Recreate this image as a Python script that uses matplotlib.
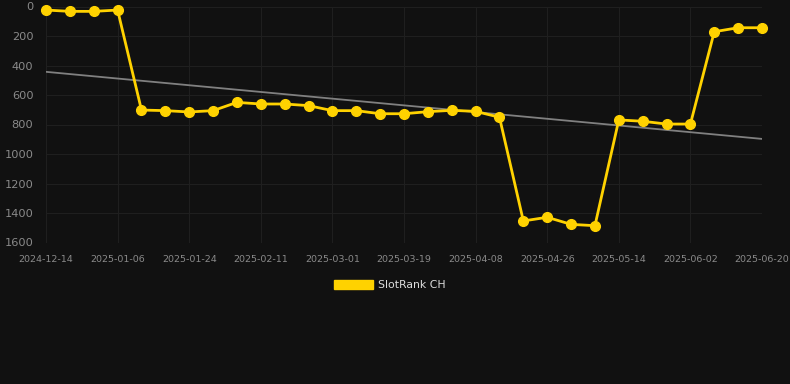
import matplotlib
matplotlib.use("Agg")
import matplotlib.pyplot as plt
import numpy as np

ranks = [24, 33, 33, 24, 702, 706, 715, 706, 650, 661, 661, 672, 706, 706, 727, 727,
         713, 704, 711, 751, 1454, 1429, 1477, 1486, 769, 778, 797, 797, 171, 144, 144]
tick_labels = ["2024-12-14", "2025-01-06", "2025-01-24", "2025-02-11", "2025-03-01",
               "2025-03-19", "2025-04-08", "2025-04-26", "2025-05-14", "2025-06-02",
               "2025-06-20"]
y_ticks = [0, 200, 400, 600, 800, 1000, 1200, 1400, 1600]
series_name = "SlotRank CH"

bg = "#111111"
gold = "#FFD200"

fig = plt.figure(figsize=(7.9, 3.84), dpi=100, facecolor=bg)
W, H = 790, 384
ax = fig.add_axes([46 / W, 1 - 242.5 / H, (762 - 46) / W, (242.5 - 6.5) / H], facecolor=bg)

x = np.arange(len(ranks))
coef = np.polyfit(x, ranks, 1)
ax.plot(x, np.polyval(coef, x), color="#808080", lw=1.3, zorder=2)
ax.plot(x, ranks, color=gold, lw=2.0, marker="o", ms=7, mfc=gold, mec=gold,
        zorder=3, clip_on=False, label=series_name)

ax.set_xlim(0, len(ranks) - 1)
ax.set_ylim(1600, 0)
ax.set_yticks(y_ticks)
ax.set_yticklabels([str(v) for v in y_ticks])
ax.set_xticks(x[::3])
ax.set_xticklabels(tick_labels)

for s in ax.spines.values():
    s.set_visible(False)
ax.grid(True, color="#1f1f1f", lw=0.8)
ax.set_axisbelow(True)
ax.tick_params(axis="y", length=0, pad=9, labelsize=8.2, labelcolor="#8a8a8a")
ax.tick_params(axis="x", length=0, pad=9, labelsize=6.8, labelcolor="#8a8a8a")

leg = fig.legend(handles=[plt.Rectangle((0, 0), 1, 1, fc=gold, ec=gold)],
                 labels=[series_name], loc="center", bbox_to_anchor=(390 / W, 1 - 285 / H),
                 frameon=False, fontsize=7.8, handlelength=3.6, handleheight=1.0,
                 handletextpad=0.5, labelcolor="#dddddd")

fig.savefig("out.png", dpi=100, facecolor=bg)
